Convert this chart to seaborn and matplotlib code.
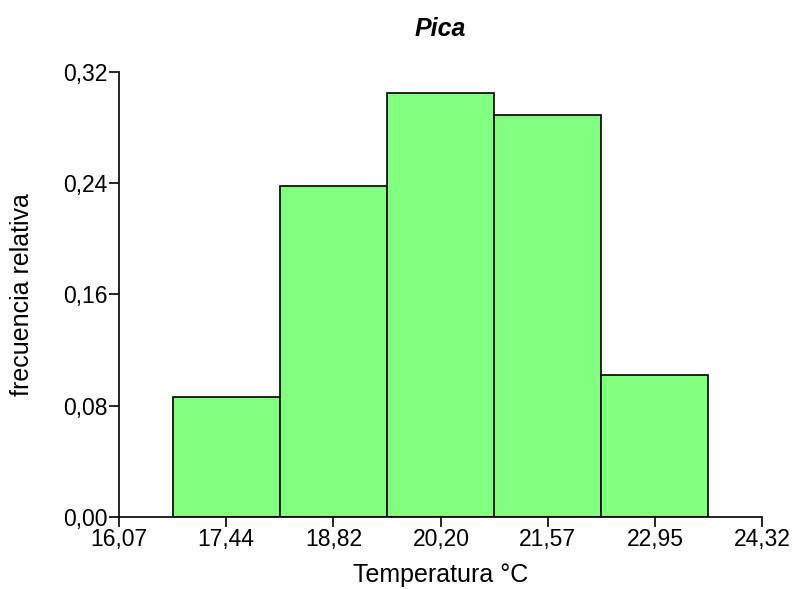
import numpy as np
import pandas as pd
import matplotlib
matplotlib.use("Agg")
import matplotlib.pyplot as plt
import seaborn as sns

# datos
centros = [17.44, 18.82, 20.20, 21.57, 22.95]
frec_rel = [0.086, 0.238, 0.305, 0.289, 0.102]
xticks = [16.07, 17.44, 18.82, 20.20, 21.57, 22.95, 24.32]
xtick_labels = ["16,07", "17,44", "18,82", "20,20", "21,57", "22,95", "24,32"]
yticks = [0.00, 0.08, 0.16, 0.24, 0.32]
ytick_labels = ["0,00", "0,08", "0,16", "0,24", "0,32"]
ancho = 1.375

df = pd.DataFrame({"temp": centros, "frec": frec_rel})

sns.set_style("white")
plt.rcParams['font.family'] = ['Liberation Sans', 'DejaVu Sans']
plt.rcParams['text.color'] = 'black'
plt.rcParams['axes.labelcolor'] = 'black'
plt.rcParams['xtick.color'] = 'black'
plt.rcParams['ytick.color'] = 'black'

fig = plt.figure(figsize=(7.93, 5.89), dpi=100)
ax = fig.add_axes([0.150, 0.1222, 0.811, 0.7556])

sns.histplot(data=df, x="temp", weights="frec", binwidth=ancho,
             binrange=(xticks[0] + ancho / 2, xticks[-1] - ancho / 2),
             color="#80FF80", alpha=1, edgecolor="black", linewidth=1.2, ax=ax)

ax.set_xlim(xticks[0], xticks[-1])
ax.set_ylim(0, 0.32)
ax.set_xticks(xticks)
ax.set_xticklabels(xtick_labels, fontsize=16.5)
ax.set_yticks(yticks)
ax.set_yticklabels(ytick_labels, fontsize=16.5)
ax.tick_params(direction="out", length=7, width=1.2, color="black", pad=1,
               bottom=True, left=True)

for s in ["top", "right"]:
    ax.spines[s].set_visible(False)
for s in ["left", "bottom"]:
    ax.spines[s].set_color("black")
    ax.spines[s].set_linewidth(1.2)

ax.set_xlabel("Temperatura °C", fontsize=18)
ax.set_ylabel("frecuencia relativa", fontsize=18)
ax.xaxis.set_label_coords(0.5, -0.103)
ax.yaxis.set_label_coords(-0.132, 0.5)
ax.set_title("Pica", fontsize=18, fontweight="bold", fontstyle="italic", y=1.063)

plt.savefig("out.png", dpi=100)
